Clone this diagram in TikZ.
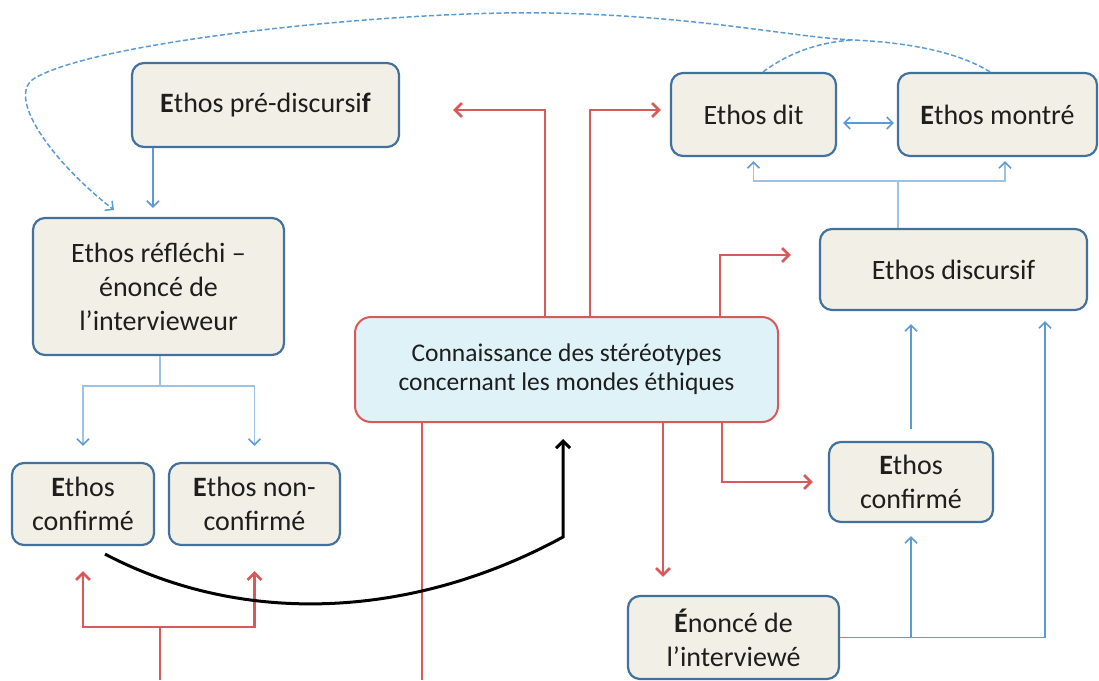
\documentclass[tikz,border=0pt]{standalone}
\usepackage{fontspec}
\setmainfont{Carlito}
\usetikzlibrary{arrows.meta}

\definecolor{boxfill}{HTML}{F2F0E6}
\definecolor{boxline}{HTML}{41719C}
\definecolor{connfill}{HTML}{DEF2F8}
\definecolor{redline}{HTML}{D9585A}
\definecolor{blueline}{HTML}{5B9BD5}
\definecolor{paleblue}{HTML}{9CC3E6}
\definecolor{ink}{HTML}{1E1E1E}

\begin{document}
\begin{tikzpicture}[x=1pt,y=-1pt,
  ebox/.style={draw=boxline, fill=boxfill, line width=2.2pt, rounded corners=12pt,
    align=center, text=ink, inner sep=0pt, font=\fontsize{28}{34}\selectfont},
  connbox/.style={draw=redline, fill=connfill, line width=2pt, rounded corners=16pt,
    align=center, text=ink, inner sep=0pt, font=\fontsize{25.5}{29}\selectfont},
  redln/.style={draw=redline, line width=2.6pt},
  redarrow/.style={redln, -{Straight Barb[length=7pt,width=14pt,line width=2.6pt]}},
  blueln/.style={draw=blueline, line width=1.6pt},
  bluearrow/.style={blueln, -{Straight Barb[length=6pt,width=12pt,line width=1.6pt]}},
  paleln/.style={draw=paleblue, line width=1.6pt},
  palearrow/.style={paleln, -{Straight Barb[length=6pt,width=12pt,line width=1.6pt,color=blueline]}},
  dashln/.style={draw=blueline, line width=1.5pt, dash pattern=on 5pt off 2.5pt},
  blackarrow/.style={draw=black, line width=3pt, -{Straight Barb[length=7pt,width=14pt,line width=3pt]}}
]
\useasboundingbox (0,0) rectangle (1099,680);

% ---- boxes ----
\node[ebox, minimum width=267pt, minimum height=84pt] (pre) at (265.5,105) {\textbf{E}thos pré-discursi\textbf{f}};
\node[ebox, minimum width=251pt, minimum height=137pt] (refl) at (158.5,286.5) {Ethos réfléchi –\\énoncé de\\l’intervieweur};
\node[ebox, minimum width=142pt, minimum height=82pt] (confL) at (83,504) {\textbf{E}thos\\confirmé};
\node[ebox, minimum width=171pt, minimum height=82pt] (nonconf) at (254.5,504) {\textbf{E}thos non-\\confirmé};
\node[connbox, minimum width=423pt, minimum height=105pt] (conn) at (566.5,369.5) {Connaissance des stéréotypes\\concernant les mondes éthiques};
\node[ebox, minimum width=165pt, minimum height=83pt] (dit) at (753.5,114.5) {Ethos dit};
\node[ebox, minimum width=199pt, minimum height=83pt] (montre) at (997.5,114.5) {\textbf{E}thos montré};
\node[ebox, minimum width=267pt, minimum height=81pt] (disc) at (953.5,269.5) {Ethos discursif};
\node[ebox, minimum width=164pt, minimum height=80pt] (confR) at (911,482) {\textbf{E}thos\\confirmé};
\node[ebox, minimum width=211pt, minimum height=83pt] (enonce) at (733.5,637.5) {\textbf{É}noncé de\\l’interviewé};

% ---- free ends at the lower edge ----
\coordinate (redL) at (160,680);
\coordinate (redC) at (422,680);

% ---- dashed feedback curve towards the reflected ethos ----
\coordinate (join) at (853,40);
\draw[dashln, -{Straight Barb[length=6pt,width=12pt,line width=1.5pt]}]
  ([xshift=-7.5pt]montre.north) .. controls (955,50) and (900,42) .. (join)
  .. controls (790,37) and (700,16) .. (550,13)
  .. controls (400,10) and (100,40) .. (35,78)
  .. controls (5,95) and (50,160) .. ([xshift=82pt,yshift=7pt]refl.north west);
\draw[dashln] ([xshift=9.5pt]dit.north) .. controls (790,52) and (820,42) .. (join);

% ---- blue connectors ----
\draw[bluearrow, shorten >=9pt] ([xshift=22pt]pre.south west) -- ([xshift=22pt]pre.south west |- refl.north);
\draw[paleln] ([xshift=1.5pt]refl.south) -- ++(0,30) coordinate (bfork);
\draw[palearrow, shorten >=16pt] (bfork) -| (confL.north);
\draw[palearrow, shorten >=16pt] (bfork) -| (nonconf.north);

\draw[blueln, {Straight Barb[length=6pt,width=12pt,line width=1.6pt]}-{Straight Barb[length=6pt,width=12pt,line width=1.6pt]},
  shorten <=6pt, shorten >=3pt] ([yshift=-8.5pt]dit.east) -- ([yshift=-8.5pt]montre.west);

\draw[paleln] ([xshift=-55.5pt]disc.north) -- ++(0,-47) coordinate (hub);
\draw[palearrow, shorten >=4pt] (hub) -| (dit.south);
\draw[palearrow, shorten >=4pt] (hub) -| ([xshift=7.5pt]montre.south);

\draw[bluearrow, shorten <=12pt, shorten >=13pt] (confR.north) -- (confR.north |- disc.south);
\draw[bluearrow, shorten >=10pt] (enonce.east) -| ([xshift=91.5pt]disc.south);
\draw[bluearrow, shorten >=13pt] (enonce.east -| confR.south) -- (confR.south);

% ---- red connectors ----
\draw[redarrow, shorten >=53pt] ([xshift=-21.5pt]conn.north) |- ([yshift=-5pt]pre.east);
\draw[redarrow, shorten >=9pt] ([xshift=23.5pt]conn.north) |- ([yshift=4.5pt]dit.west);
\draw[redarrow, shorten >=28pt] ([xshift=153.5pt]conn.north) |- ([yshift=14.5pt]disc.west);
\draw[redarrow, shorten >=15pt] ([xshift=155.5pt]conn.south) |- (confR.west);
\draw[redarrow, shorten >=18pt] ([xshift=96.5pt]conn.south) -- ([xshift=96.5pt]conn.south |- enonce.north);
\draw[redln] (redC) -- (redC |- conn.south);

\draw[redln] (redL) -- ++(0,-53) coordinate (rfork);
\draw[redarrow, shorten >=25pt] (rfork) -| (confL.south);
\draw[redarrow, shorten >=25pt] (rfork) -| (nonconf.south);

% ---- black arrow into the stereotypes box ----
\draw[blackarrow, shorten >=16pt] ([xshift=22pt,yshift=-8pt]confL.south)
  .. controls (250,630) and (420,615) .. (563,537) -- ([xshift=-3.5pt]conn.south);
\end{tikzpicture}
\end{document}
